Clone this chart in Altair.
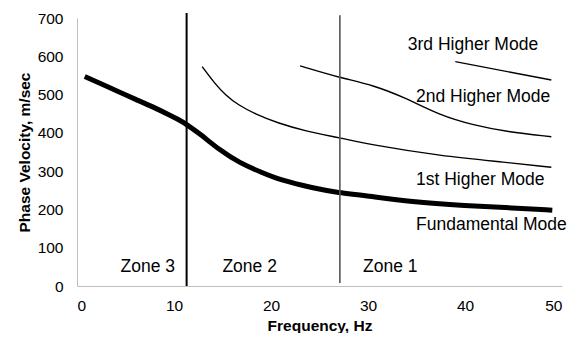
import altair as alt
import pandas as pd

# Fundamental mode
fund_f = [0.8, 2.5, 4.4, 6.0, 7.9, 9.5, 10.6, 11.3, 12.7, 14.7, 16.8, 18.9, 20.9, 24.3, 27.1, 29.2, 34.6, 40.0, 45.0, 49.0]
fund_v = [547, 528, 506, 488, 467, 447, 433, 422, 397, 355, 321, 298, 277, 256, 243, 238, 219, 210, 204, 198]

# 1st higher mode
h1_f = [12.9, 14.2, 15.3, 16.6, 18.4, 20.75, 23.5, 27.1, 30.5, 37.4, 44.3, 48.9]
h1_v = [573, 529, 499, 473, 449, 425, 405, 387, 368, 340, 323, 310]

# 2nd higher mode
h2_f = [23.0, 27.1, 30.5, 34.0, 37.4, 40.9, 44.3, 48.9]
h2_v = [575, 544, 525, 490, 446, 420, 403, 390]

# 3rd higher mode
h3_f = [39.0, 48.9]
h3_v = [586, 538]

# Zone boundaries
zone_f = [11.3, 27.1]
zone_top = [713, 707]
zone_bottom = [0, 8]
zone_color = ["#000000", "#555555"]
zone_width = [2, 1.6]

# Zone labels
zone_labels = ["Zone 3", "Zone 2", "Zone 1"]
zone_label_f = [7.3, 17.8, 32.3]
zone_label_v = [50, 50, 50]

# Mode labels
mode_labels = ["3rd Higher Mode", "2nd Higher Mode", "1st Higher Mode", "Fundamental Mode"]
mode_label_f = [34.1, 34.95, 34.95, 34.95]
mode_label_v = [629, 493, 277, 159]

# Axis tick values
x_ticks = [0, 10, 20, 30, 40, 50]
y_ticks = [0, 100, 200, 300, 400, 500, 600, 700]

FONT = "Liberation Sans"

rows = []
for name, fs, vs, w in [("fund", fund_f, fund_v, 5), ("h1", h1_f, h1_v, 1.4),
                        ("h2", h2_f, h2_v, 1.4), ("h3", h3_f, h3_v, 1.4)]:
    for f, v in zip(fs, vs):
        rows.append({"mode": name, "f": f, "v": v, "w": w})
curves = pd.DataFrame(rows)

xscale = alt.Scale(domain=[0, 50], nice=False)
yscale = alt.Scale(domain=[0, 700], nice=False)

xaxis = alt.Axis(values=x_ticks, title="Frequency, Hz", grid=False,
                 ticks=False, tickSize=0, domainColor="#bfbfbf", labelFont=FONT,
                 labelFontSize=15.5, labelColor="#000000", labelPadding=12,
                 labelOverlap=False,
                 titleFont=FONT, titleFontSize=15.5, titleFontWeight="bold",
                 titleColor="#000000", titlePadding=5)
yaxis = alt.Axis(values=y_ticks, title="Phase Velocity, m/sec",
                 grid=False, ticks=False, tickSize=0, domainColor="#bfbfbf", labelFont=FONT,
                 labelFontSize=15.5, labelColor="#000000", labelPadding=14,
                 labelOverlap=False,
                 titleFont=FONT, titleFontSize=15.5, titleFontWeight="bold",
                 titleColor="#000000", titlePadding=5)

lines = alt.Chart(curves).mark_line(color="#000000", interpolate="basis").encode(
    x=alt.X("f:Q", scale=xscale, axis=xaxis),
    y=alt.Y("v:Q", scale=yscale, axis=yaxis),
    detail="mode:N",
    strokeWidth=alt.StrokeWidth("w:Q", scale=None, legend=None),
)

zones = pd.DataFrame({"f": zone_f, "top": zone_top, "bottom": zone_bottom,
                      "c": zone_color, "w": zone_width})
rules = alt.Chart(zones).mark_rule().encode(
    x=alt.X("f:Q", scale=xscale, axis=xaxis),
    y=alt.Y("bottom:Q", scale=yscale, axis=yaxis),
    y2="top:Q",
    color=alt.Color("c:N", scale=None, legend=None),
    strokeWidth=alt.StrokeWidth("w:Q", scale=None, legend=None),
)

zl = pd.DataFrame({"t": zone_labels, "f": zone_label_f, "v": zone_label_v})
zone_text = alt.Chart(zl).mark_text(font=FONT, fontSize=17.5, color="#000000",
                                    align="center", baseline="middle").encode(
    x=alt.X("f:Q", scale=xscale, axis=xaxis),
    y=alt.Y("v:Q", scale=yscale, axis=yaxis),
    text="t:N")

ml = pd.DataFrame({"t": mode_labels, "f": mode_label_f, "v": mode_label_v})
mode_text = alt.Chart(ml).mark_text(font=FONT, fontSize=17.5, color="#000000",
                                    align="left", baseline="middle").encode(
    x=alt.X("f:Q", scale=xscale, axis=xaxis),
    y=alt.Y("v:Q", scale=yscale, axis=yaxis),
    text="t:N")

chart = alt.layer(lines, rules, zone_text, mode_text).properties(
    width=485, height=268,
    autosize=alt.AutoSizeParams(type="none"),
    padding={"left": 69, "top": 10, "right": 12, "bottom": 47},
    background="#ffffff",
).configure_view(stroke=None)

chart.save("out.html", embed_options={"renderer": "svg", "actions": False})
